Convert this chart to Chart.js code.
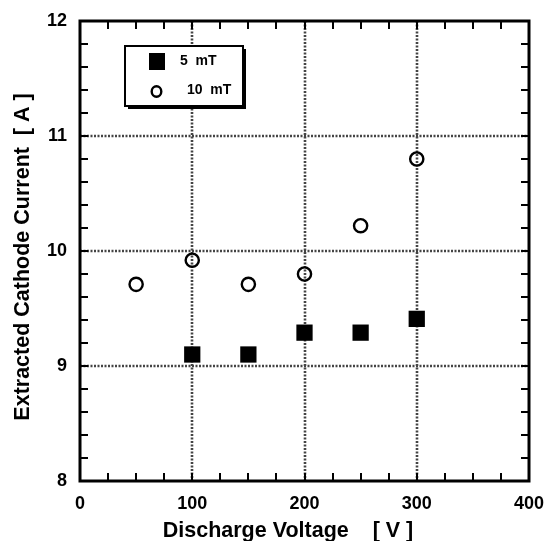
<!DOCTYPE html>
<html>
<head>
<meta charset="utf-8">
<script src="https://cdn.jsdelivr.net/npm/chart.js@4/dist/chart.umd.min.js"></script>
<style>
  html, body { margin: 0; padding: 0; background: #fff; }
  #c { display: block; }
</style>
</head>
<body>
<canvas id="c" width="548" height="541"></canvas>
<script>
// ---- data ----
const seriesNames = ["5  mT", "10  mT"];
const voltage5mT = [100, 150, 200, 250, 300];
const current5mT = [9.10, 9.10, 9.29, 9.29, 9.41];
const voltage10mT = [50, 100, 150, 200, 250, 300];
const current10mT = [9.71, 9.92, 9.71, 9.80, 10.22, 10.80];
const xTicks = [0, 100, 200, 300, 400];
const yTicks = [8, 9, 10, 11, 12];
const xTitle = "Discharge Voltage    [ V ]";
const yTitle = "Extracted Cathode Current  [ A ]";

const FONT = "'Liberation Sans', Arial, Helvetica, sans-serif";

const framePlugin = {
  id: 'framePlugin',
  beforeDatasetsDraw(chart) {
    const { ctx, chartArea: a, scales: { x, y } } = chart;
    ctx.save();
    ctx.strokeStyle = '#444';
    ctx.lineWidth = 2.6;
    ctx.setLineDash([2, 1.5]);
    xTicks.slice(1, -1).forEach(v => {
      const px = Math.round(x.getPixelForValue(v));
      ctx.beginPath(); ctx.moveTo(px, a.top); ctx.lineTo(px, a.bottom); ctx.stroke();
    });
    yTicks.slice(1, -1).forEach(v => {
      const py = Math.round(y.getPixelForValue(v));
      ctx.beginPath(); ctx.moveTo(a.left, py); ctx.lineTo(a.right, py); ctx.stroke();
    });
    ctx.setLineDash([]);
    ctx.strokeStyle = '#000';
    ctx.lineWidth = 2;
    const tl = 8;
    for (let v = xTicks[0]; v <= xTicks[xTicks.length - 1]; v += 25) {
      const px = Math.round(x.getPixelForValue(v));
      ctx.beginPath();
      ctx.moveTo(px, a.bottom); ctx.lineTo(px, a.bottom - tl);
      ctx.moveTo(px, a.top); ctx.lineTo(px, a.top + tl);
      ctx.stroke();
    }
    for (let i = 0; i <= 20; i++) {
      const v = yTicks[0] + i * 0.2;
      const py = Math.round(y.getPixelForValue(v));
      ctx.beginPath();
      ctx.moveTo(a.left, py); ctx.lineTo(a.left + tl, py);
      ctx.moveTo(a.right, py); ctx.lineTo(a.right - tl, py);
      ctx.stroke();
    }
    ctx.lineWidth = 3;
    ctx.strokeRect(a.left, a.top, a.right - a.left, a.bottom - a.top);
    ctx.restore();
  },
  afterDraw(chart) {
    const { ctx } = chart;
    ctx.save();
    ctx.fillStyle = '#000';
    ctx.font = `bold 21.5px ${FONT}`;
    ctx.textAlign = 'center';
    ctx.textBaseline = 'alphabetic';
    ctx.fillText(xTitle, 288, 537);
    ctx.save();
    ctx.translate(29, 257);
    ctx.rotate(-Math.PI / 2);
    ctx.fillText(yTitle, 0, 0);
    ctx.restore();
    const bx = 125, by = 46, bw = 118, bh = 60;
    ctx.fillStyle = '#000';
    ctx.fillRect(bx + 3, by + 3, bw, bh);
    ctx.fillStyle = '#fff';
    ctx.fillRect(bx, by, bw, bh);
    ctx.strokeStyle = '#000';
    ctx.lineWidth = 2;
    ctx.strokeRect(bx, by, bw, bh);
    ctx.fillStyle = '#000';
    ctx.fillRect(149, 53, 16, 17);
    ctx.lineWidth = 2.4;
    ctx.beginPath();
    ctx.ellipse(156.5, 91.5, 4.8, 5.3, 0, 0, Math.PI * 2);
    ctx.stroke();
    ctx.font = `bold 14px ${FONT}`;
    ctx.textAlign = 'left';
    ctx.textBaseline = 'middle';
    ctx.fillText(seriesNames[0], 180, 61);
    ctx.fillText(seriesNames[1], 187, 90);
    ctx.restore();
  }
};

new Chart(document.getElementById('c'), {
  type: 'scatter',
  data: {
    datasets: [
      {
        label: seriesNames[0],
        data: voltage5mT.map((v, i) => ({ x: v, y: current5mT[i] })),
        pointStyle: 'rect',
        pointRadius: 11.5,
        pointBackgroundColor: '#000',
        pointBorderColor: '#000',
        pointBorderWidth: 0,
        showLine: false
      },
      {
        label: seriesNames[1],
        data: voltage10mT.map((v, i) => ({ x: v, y: current10mT[i] })),
        pointStyle: 'circle',
        pointRadius: 6.6,
        pointBackgroundColor: 'rgba(255,255,255,0)',
        pointBorderColor: '#000',
        pointBorderWidth: 2.4,
        showLine: false
      }
    ]
  },
  options: {
    responsive: false,
    animation: false,
    devicePixelRatio: 1,
    layout: { padding: { top: 21, right: 19, left: 0, bottom: 0 } },
    plugins: { legend: { display: false }, tooltip: { enabled: false } },
    scales: {
      x: {
        type: 'linear', min: 0, max: 400,
        afterBuildTicks: s => { s.ticks = xTicks.map(v => ({ value: v })); },
        ticks: { color: '#000', font: { family: FONT, size: 18, weight: 'bold' }, padding: 12, maxRotation: 0 },
        grid: { display: false, drawTicks: false },
        border: { display: false },
        afterFit: s => { s.height = 60; s.paddingLeft = 0; s.paddingRight = 0; }
      },
      y: {
        type: 'linear', min: 8, max: 12,
        afterBuildTicks: s => { s.ticks = yTicks.map(v => ({ value: v })); },
        ticks: { color: '#000', font: { family: FONT, size: 18, weight: 'bold' }, padding: 13 },
        grid: { display: false, drawTicks: false },
        border: { display: false },
        afterFit: s => { s.width = 80; s.paddingTop = 0; s.paddingBottom = 0; }
      }
    }
  },
  plugins: [framePlugin]
});
</script>
</body>
</html>
